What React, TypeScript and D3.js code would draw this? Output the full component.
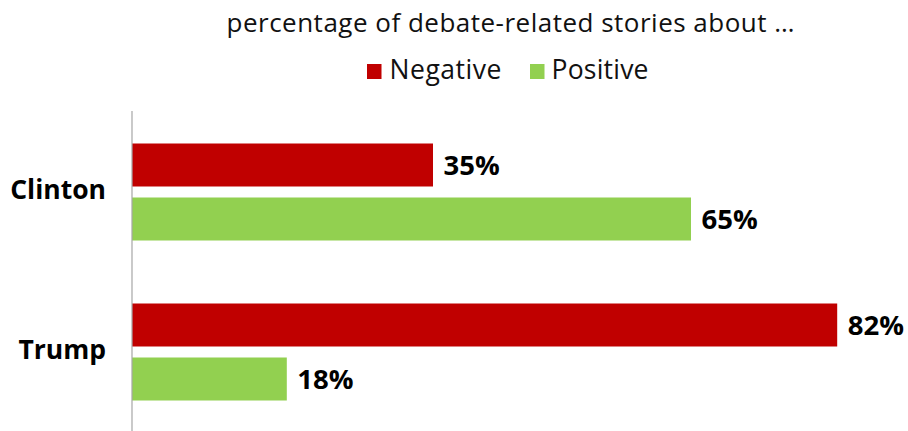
import React from "react";
import * as d3 from "d3";

const categories = ["Clinton", "Trump"];
const seriesNames = ["Negative", "Positive"];
const negativeValues = [35, 82];
const positiveValues = [65, 18];
const titleText = "percentage of debate-related stories about \u2026";

const W = 908;
const H = 431;
const COLORS: Record<string, string> = { Negative: "#C00000", Positive: "#92D050" };
const FONT = "'Open Sans', 'DejaVu Sans', sans-serif";

export default function App() {
  const x = d3.scaleLinear().domain([0, 100]).range([132, 992]);
  const y0 = d3.scaleBand<string>().domain(categories).range([111, 431]);
  const y1 = d3
    .scaleBand<string>()
    .domain(seriesNames)
    .range([32.5, 129.5])
    .paddingInner(11 / 54);

  const rows = categories.map((c, i) => ({
    cat: c,
    vals: [
      { s: "Negative", v: negativeValues[i] },
      { s: "Positive", v: positiveValues[i] },
    ],
  }));

  const legendItems = [
    { s: "Negative", sx: 367, tx: 389.5, len: 112 },
    { s: "Positive", sx: 530, tx: 551.5, len: 97 },
  ];

  return (
    <svg
      width={W}
      height={H}
      style={{ position: "absolute", left: 0, top: 0, display: "block", background: "#fff" }}
      fontFamily={FONT}
    >
      <text x={226.5} y={31.5} fontSize={26} fill="#111" textLength={568}>
        {titleText}
      </text>
      {legendItems.map((l) => (
        <g key={l.s}>
          <rect x={l.sx} y={64} width={14.5} height={15} fill={COLORS[l.s]} />
          <text x={l.tx} y={78.5} fontSize={26.5} fill="#111" textLength={l.len}>
            {l.s}
          </text>
        </g>
      ))}
      {rows.map((r) => (
        <g key={r.cat} transform={`translate(0,${y0(r.cat)})`}>
          <text
            x={106}
            y={y0.bandwidth() / 2 + 7.5}
            textAnchor="end"
            fontSize={26.5}
            fontWeight="bold"
            fill="#000"
          >
            {r.cat}
          </text>
          {r.vals.map((d) => (
            <g key={d.s}>
              <rect
                x={x(0)}
                y={y1(d.s)}
                width={x(d.v) - x(0)}
                height={y1.bandwidth()}
                fill={COLORS[d.s]}
              />
              <text
                x={x(d.v) + 10.5}
                y={(y1(d.s) as number) + y1.bandwidth() / 2 + 9.5}
                fontSize={27.5}
                fontWeight="bold"
                fill="#000"
              >
                {d.v + "%"}
              </text>
            </g>
          ))}
        </g>
      ))}
      <line x1={132} x2={132} y1={111} y2={431} stroke="#a6a6a6" strokeWidth={1.2} />
    </svg>
  );
}
